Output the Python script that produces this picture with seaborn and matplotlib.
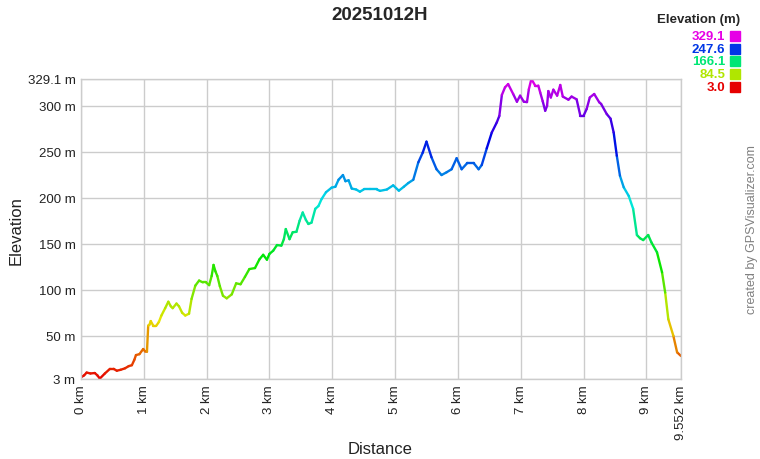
import numpy as np
import pandas as pd
import matplotlib
matplotlib.use("Agg")
import matplotlib.pyplot as plt
from matplotlib.colors import ListedColormap, hsv_to_rgb
from matplotlib.patches import Rectangle
import seaborn as sns

# Profile (km, m)
dist = [0.00, 0.05, 0.09, 0.15, 0.22, 0.26, 0.30, 0.38, 0.46, 0.52, 0.57, 0.63, 0.70, 0.76, 0.81,
        0.85, 0.875, 0.93, 0.99, 1.02, 1.05, 1.07, 1.09, 1.11, 1.15, 1.20, 1.24, 1.28, 1.34, 1.39,
        1.43, 1.46, 1.52, 1.56, 1.61, 1.66, 1.72, 1.76, 1.82, 1.88, 1.94, 1.99, 2.04, 2.08, 2.11,
        2.14, 2.17, 2.21, 2.26, 2.32, 2.40, 2.47, 2.54, 2.61, 2.68, 2.77, 2.84, 2.90, 2.96, 3.00,
        3.06, 3.12, 3.19, 3.23, 3.26, 3.32, 3.37, 3.43, 3.48, 3.53, 3.58, 3.62, 3.67, 3.73, 3.78,
        3.83, 3.90, 3.99, 4.05, 4.10, 4.17, 4.21, 4.26, 4.31, 4.38, 4.44, 4.50, 4.60, 4.71, 4.76,
        4.87, 4.97, 5.06, 5.14, 5.21, 5.29, 5.37, 5.44, 5.50, 5.58, 5.66, 5.74, 5.82, 5.90, 5.98,
        6.06, 6.15, 6.25, 6.33, 6.38, 6.46, 6.54, 6.62, 6.66, 6.70, 6.75, 6.80, 6.88, 6.94, 6.99,
        7.05, 7.10, 7.13, 7.17, 7.23, 7.28, 7.31, 7.35, 7.39, 7.42, 7.44, 7.48, 7.52, 7.58, 7.63,
        7.67, 7.76, 7.81, 7.89, 7.95, 8.00, 8.05, 8.10, 8.17, 8.25, 8.28, 8.37, 8.43, 8.48, 8.53,
        8.58, 8.64, 8.72, 8.79, 8.85, 8.90, 8.95, 9.03, 9.08, 9.17, 9.25, 9.30, 9.35, 9.43, 9.49,
        9.552]
elev = [4.8, 7, 10, 9, 9.5, 7, 3.5, 9, 14, 14, 12, 13, 14.6, 17, 18,
        24, 29, 30, 35.6, 33, 32.7, 61, 62, 66, 61, 61, 65, 72, 80, 87,
        82, 80, 85, 82, 75, 72, 74, 90, 104.5, 110, 108, 108, 105, 115, 127,
        120, 115, 104, 93.5, 90.7, 95, 107, 106, 114, 122.5, 123.6, 133, 138, 132.7, 139,
        142.5, 148.6, 148, 155, 166, 155, 162.5, 163, 175, 184, 176, 171.5, 173, 188, 191,
        198.6, 206, 211, 212, 219.6, 224.7, 218, 219, 210, 209, 206.6, 209, 209, 209, 207.5,
        209, 213.5, 207.7, 212, 216, 219.6, 238.5, 249, 261, 244, 231, 224.7, 227.7, 231, 243,
        231, 237.8, 237.8, 231, 235.6, 253.8, 271, 282, 289, 311.7, 320, 323.6, 312.8, 304.4, 311,
        304.4, 304, 318, 329.1, 322, 322, 314.6, 305, 294.6, 300, 316, 309, 317.5, 311, 322.6,
        310, 306.6, 310, 307, 289, 289, 296.5, 309, 312.8, 303.8, 302, 291, 286, 271, 245.7,
        224, 211.4, 202, 188, 159.5, 156, 154, 159.5, 151.6, 140.7, 119, 97, 68, 50, 32,
        28]

y_ticks = [3, 50, 100, 150, 200, 250, 300, 329.1]
y_labels = ["3 m", "50 m", "100 m", "150 m", "200 m", "250 m", "300 m", "329.1 m"]
x_ticks = [0, 1, 2, 3, 4, 5, 6, 7, 8, 9, 9.552]
x_labels = ["0 km", "1 km", "2 km", "3 km", "4 km", "5 km", "6 km", "7 km", "8 km", "9 km", "9.552 km"]
legend_vals = [329.1, 247.6, 166.1, 84.5, 3.0]

emin, emax = 3.0, 329.1

# red -> magenta hue ramp like GPSVisualizer
hues = np.linspace(0, 300 / 360, 256)
cmap = ListedColormap(hsv_to_rgb(np.column_stack([hues, np.ones(256), np.full(256, 0.9)])))

def col(v):
    return cmap((v - emin) / (emax - emin))

# one unit per segment so seaborn can colour each piece by its elevation
rows = []
for i in range(len(dist) - 1):
    mid = (elev[i] + elev[i + 1]) / 2
    rows.append((i, dist[i], elev[i], mid))
    rows.append((i, dist[i + 1], elev[i + 1], mid))
seg = pd.DataFrame(rows, columns=["seg", "dist", "elev", "hue"])

sns.set_style("whitegrid")
plt.rcParams['font.family'] = ['Liberation Sans', 'DejaVu Sans']

fig = plt.figure(figsize=(7.6, 4.6), dpi=100)
ax = fig.add_axes([81 / 760, 80 / 460, 600 / 760, 300 / 460])

sns.lineplot(data=seg, x="dist", y="elev", units="seg", hue="hue", palette=cmap,
             hue_norm=(emin, emax), estimator=None, sort=False, legend=False,
             linewidth=1.7, ax=ax)

ax.set_xlim(0, 9.552)
ax.set_ylim(emin, emax)
ax.set_xticks(x_ticks)
ax.set_xticklabels(x_labels, rotation=90, va="top", fontsize=9.5)
ax.set_yticks(y_ticks)
ax.set_yticklabels(y_labels, fontsize=9.5)
ax.tick_params(length=0, pad=4, colors="#222222")
ax.grid(True, color="#cccccc", linewidth=1)
for s in ax.spines.values():
    s.set_color("#cccccc")
    s.set_linewidth(1)
ax.set_xlabel("")
ax.set_ylabel("")
fig.text(380 / 760, 1 - 450 / 460, "Distance", ha="center", va="center", fontsize=12, color="#222222")
fig.text(16 / 760, 1 - 231 / 460, "Elevation", rotation=90, ha="center", va="center", fontsize=12,
         color="#222222")

fig.text(0.5, 1 - 15 / 460, "20251012H", ha="center", va="center", fontsize=13.5, fontweight="bold")
fig.text(752 / 760, 0.5, "created by GPSVisualizer.com", rotation=90, ha="center", va="center",
         fontsize=9, color="#808080")

# elevation colour key
fig.text(740 / 760, 1 - 20 / 460, "Elevation (m)", ha="right", va="center", fontsize=9.5, fontweight="bold")
for k, v in enumerate(legend_vals):
    yc = 37 + k * 12.7
    fig.text(725 / 760, 1 - yc / 460, f"{v:.1f}", ha="right", va="center", fontsize=9.5,
             fontweight="bold", color=col(v))
    fig.patches.append(Rectangle((730 / 760, 1 - (yc + 5) / 460), 10 / 760, 10 / 460,
                                 transform=fig.transFigure, color=col(v)))

fig.savefig("out.png", dpi=100)
